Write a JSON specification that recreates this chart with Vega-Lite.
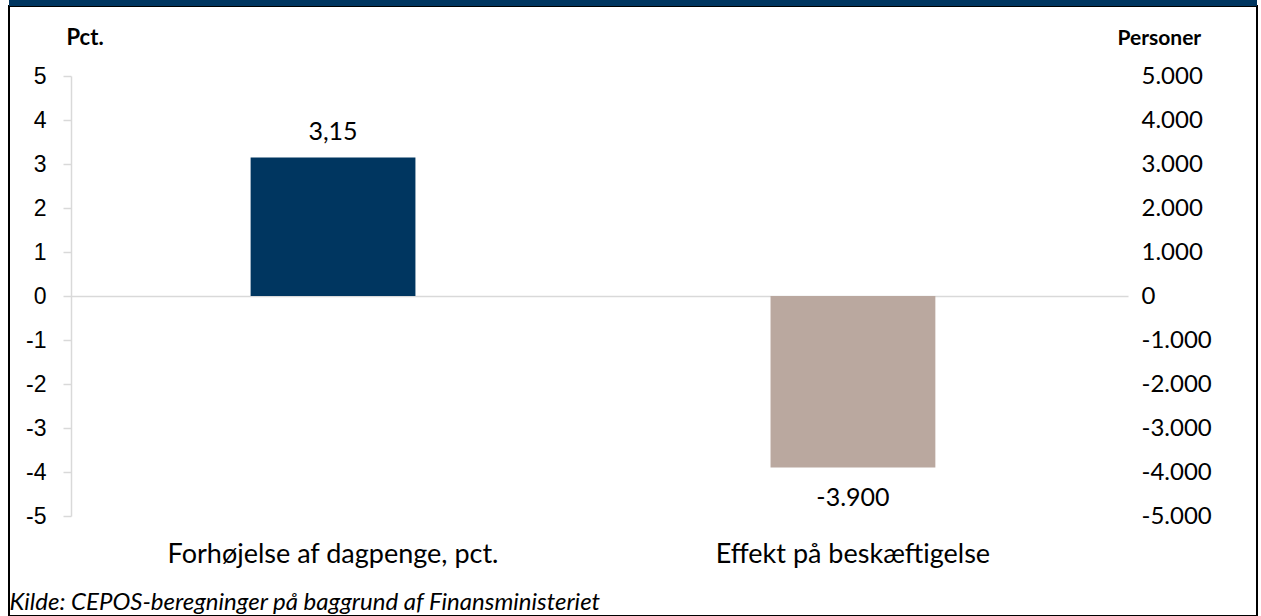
{
  "$schema": "https://vega.github.io/schema/vega-lite/v6.json",
  "width": 1248,
  "height": 610,
  "autosize": {"type": "none"},
  "padding": {"left": 9, "top": 6, "right": 4, "bottom": 0},
  "background": "white",
  "config": {
    "view": {"stroke": "#000000", "strokeWidth": 2, "fill": "white"},
    "locale": {"number": {"decimal": ",", "thousands": ".", "grouping": [3], "currency": ["", " kr."], "minus": "-"}},
    "font": "Lato",
    "axis": {"grid": false}
  },
  "datasets": {
    "tal": [
      {"kategori": "Forhøjelse af dagpenge, pct.", "akse": "Pct.", "vaerdi": 3.15},
      {"kategori": "Effekt på beskæftigelse", "akse": "Personer", "vaerdi": -3900}
    ],
    "hoved": [{"del": "titelbjælke"}]
  },
  "resolve": {"scale": {"y": "independent"}, "axis": {"x": "independent", "y": "independent"}},
  "layer": [
    {
      "data": {"name": "hoved"},
      "mark": {"type": "rect", "color": "#003660", "clip": false},
      "encoding": {
        "y": {"datum": 6.5909, "type": "quantitative", "scale": {"domain": [-5, 5], "range": [510, 70]}, "axis": null},
        "y2": {"datum": 6.75}
      }
    },
    {
      "data": {"name": "tal"},
      "transform": [{"filter": "datum.akse === 'Pct.'"}],
      "mark": {"type": "bar", "color": "#003660"},
      "encoding": {
        "x": {
          "field": "kategori", "type": "nominal",
          "scale": {"domain": ["Forhøjelse af dagpenge, pct.", "Effekt på beskæftigelse"], "range": [62, 1119], "paddingInner": 0.683, "paddingOuter": 0.358, "align": 0.4825},
          "axis": {"orient": "bottom", "offset": -320, "labels": false, "ticks": false, "domainColor": "#d9d9d9", "domainWidth": 1.5, "title": null}
        },
        "y": {
          "field": "vaerdi", "type": "quantitative",
          "scale": {"domain": [-5, 5], "range": [510, 70], "nice": false, "zero": false},
          "axis": {
            "orient": "left", "offset": -62, "values": [-5, -4, -3, -2, -1, 0, 1, 2, 3, 4, 5], "format": "d",
            "labelFont": "Liberation Sans", "labelFontSize": 23, "labelColor": "#000000", "labelPadding": 17,
            "tickSize": 8, "tickColor": "#d9d9d9", "tickWidth": 1.5, "domainColor": "#d9d9d9", "domainWidth": 1.5,
            "title": "Pct.", "titleAngle": 0, "titleFont": "Lato", "titleFontWeight": "bold", "titleFontSize": 22,
            "titleColor": "#000000", "titleAlign": "left", "titleBaseline": "alphabetic", "titleX": -5, "titleY": 38
          }
        }
      }
    },
    {
      "data": {"name": "tal"},
      "transform": [{"filter": "datum.akse === 'Personer'"}],
      "mark": {"type": "bar", "color": "#BAA89F"},
      "encoding": {
        "x": {
          "field": "kategori", "type": "nominal",
          "axis": {
            "orient": "bottom", "offset": -100, "domain": false, "ticks": false, "tickSize": 0,
            "labelFont": "Lato", "labelFontSize": 27, "labelColor": "#000000", "labelBaseline": "alphabetic",
            "labelPadding": 46, "labelLimit": 0, "labelAngle": 0,
            "title": "Kilde: CEPOS-beregninger på baggrund af Finansministeriet",
            "titleFont": "Lato", "titleFontStyle": "italic", "titleFontWeight": "normal", "titleFontSize": 24,
            "titleColor": "#000000", "titleAlign": "left", "titleBaseline": "alphabetic", "titleX": 0, "titleY": 93
          }
        },
        "y": {
          "field": "vaerdi", "type": "quantitative",
          "scale": {"domain": [-5000, 5000], "range": [510, 70], "nice": false, "zero": false},
          "axis": {
            "orient": "right", "offset": -129, "values": [-5000, -4000, -3000, -2000, -1000, 0, 1000, 2000, 3000, 4000, 5000], "format": ",d",
            "domain": false, "ticks": false, "tickSize": 0,
            "labelFont": "Lato", "labelFontSize": 24, "labelColor": "#000000", "labelPadding": 13,
            "title": "Personer", "titleAngle": 0, "titleFont": "Lato", "titleFontWeight": "bold", "titleFontSize": 21,
            "titleColor": "#000000", "titleAlign": "left", "titleBaseline": "alphabetic", "titleX": -11, "titleY": 38
          }
        }
      }
    },
    {
      "data": {"name": "tal"},
      "transform": [{"filter": "datum.akse === 'Pct.'"}],
      "mark": {"type": "text", "font": "Lato", "fontSize": 25, "color": "#000000", "baseline": "alphabetic", "dy": -17},
      "encoding": {
        "x": {"field": "kategori", "type": "nominal", "bandPosition": 0.5, "axis": null},
        "y": {"field": "vaerdi", "type": "quantitative", "scale": {"domain": [-5, 5], "range": [510, 70], "nice": false, "zero": false}, "axis": null},
        "text": {"field": "vaerdi", "type": "quantitative", "format": ",.2f"}
      }
    },
    {
      "data": {"name": "tal"},
      "transform": [{"filter": "datum.akse === 'Personer'"}],
      "mark": {"type": "text", "font": "Lato", "fontSize": 25, "color": "#000000", "baseline": "alphabetic", "dy": 38},
      "encoding": {
        "x": {"field": "kategori", "type": "nominal", "bandPosition": 0.5, "axis": null},
        "y": {"field": "vaerdi", "type": "quantitative", "scale": {"domain": [-5000, 5000], "range": [510, 70], "nice": false, "zero": false}, "axis": null},
        "text": {"field": "vaerdi", "type": "quantitative", "format": ",d"}
      }
    }
  ]
}
